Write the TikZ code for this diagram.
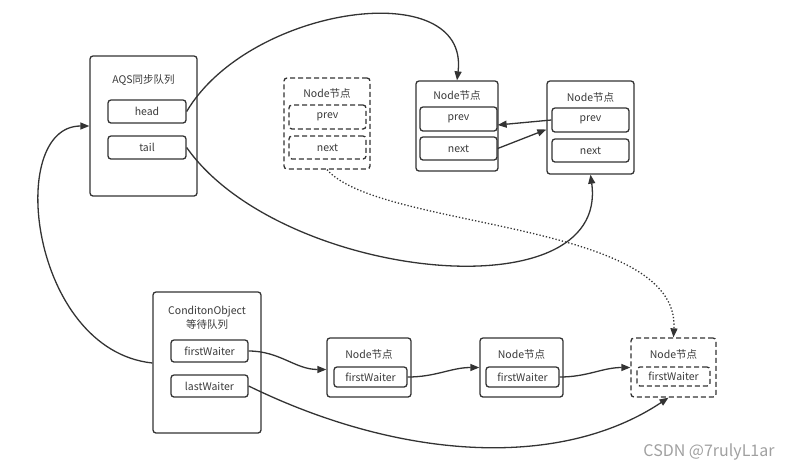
\documentclass[tikz,border=0pt]{standalone}
\usepackage{fontspec}
\setmainfont{Noto Sans CJK SC}
\usetikzlibrary{arrows.meta}
\definecolor{ln}{HTML}{333333}
\definecolor{tx}{HTML}{3A3A3A}
\definecolor{wm}{HTML}{A0A0A0}
\begin{document}
\begin{tikzpicture}[x=1pt,y=-1pt,
  box/.style={draw=ln,line width=1.3pt,rounded corners=3pt,inner sep=0pt,fill=white},
  dbox/.style={box,dash pattern=on 5pt off 3pt},
  lbl/.style={text=tx,font=\fontsize{10.5}{12}\selectfont,inner sep=0pt},
  ttl/.style={text=tx,font=\fontsize{10.5}{13.5}\selectfont,inner sep=0pt,align=center},
  conn/.style={draw=ln,line width=1.3pt,-{Triangle[length=9pt,width=7pt]}},
  dconn/.style={conn,dash pattern=on 1.3pt off 2pt}]
\useasboundingbox (0,0) rectangle (801,475);
% AQS queue
\node[box,minimum width=107pt,minimum height=140pt] (aqs) at (143.5,126) {};
\node[ttl] (aqsl) at (143.5,80) {AQS同步队列};
\node[box,minimum width=78pt,minimum height=23pt,lbl] (head) at (147,111.5) {head};
\node[box,minimum width=78pt,minimum height=23pt,lbl] (tail) at (147,147.5) {tail};
% dashed node
\node[dbox,minimum width=86pt,minimum height=91pt] (dn) at (327,123.5) {};
\node[ttl] (dnl) at (327,93) {Node节点};
\node[dbox,minimum width=77pt,minimum height=24pt,lbl] (dnprev) at (327.5,117) {prev};
\node[dbox,minimum width=77pt,minimum height=23pt,lbl] (dnnext) at (327.5,147.5) {next};
% node 2
\node[box,minimum width=82pt,minimum height=90pt] (n2) at (457,126) {};
\node[ttl] (n2l) at (457,95) {Node节点};
\node[box,minimum width=77pt,minimum height=24pt,lbl] (n2prev) at (458.5,119) {prev};
\node[box,minimum width=77pt,minimum height=23pt,lbl] (n2next) at (458.5,148.5) {next};
% node 3
\node[box,minimum width=87pt,minimum height=93pt] (n3) at (590.5,127.5) {};
\node[ttl] (n3l) at (590.5,97) {Node节点};
\node[box,minimum width=77pt,minimum height=24pt,lbl] (n3prev) at (590.5,120) {prev};
\node[box,minimum width=77pt,minimum height=23pt,lbl] (n3next) at (590.5,150.5) {next};
% condition object
\node[box,minimum width=108pt,minimum height=141pt] (co) at (207,362.5) {};
\node[ttl] (col) at (207,318) {ConditonObject\\等待队列};
\node[box,minimum width=77pt,minimum height=22pt,lbl] (fw) at (209.5,351) {firstWaiter};
\node[box,minimum width=77pt,minimum height=22pt,lbl] (lw) at (209.5,386) {lastWaiter};
% waiter nodes
\node[box,minimum width=84pt,minimum height=59pt] (n4) at (369,367.5) {};
\node[ttl] (n4l) at (369,354) {Node节点};
\node[box,minimum width=73pt,minimum height=20pt,lbl] (n4in) at (370.5,377) {firstWaiter};
\node[box,minimum width=83pt,minimum height=59pt] (n5) at (521.5,367.5) {};
\node[ttl] (n5l) at (521.5,354) {Node节点};
\node[box,minimum width=73pt,minimum height=20pt,lbl] (n5in) at (522.5,377) {firstWaiter};
\node[dbox,minimum width=85pt,minimum height=59pt] (n6) at (673.5,367.5) {};
\node[ttl] (n6l) at (673.5,354) {Node节点};
\node[dbox,minimum width=73pt,minimum height=19pt,lbl] (n6in) at (673.5,376.5) {firstWaiter};
% watermark
\node[text=wm,font=\fontsize{16}{18}\selectfont,inner sep=0pt] (wmk) at (709,452) {CSDN @7rulyL1ar};
% connectors
\draw[conn] (head.east) .. controls (250,5) and (470,-25) .. (n2.north);
\draw[conn] (tail.east) .. controls (280,280) and (610,315) .. (n3.south);
\draw[conn] (n3prev.west) -- ([yshift=-6pt]n2prev.east);
\draw[conn] (n2next.east) -- ([yshift=-2pt]n3.west);
\draw[dconn] (dn.south) .. controls (380,230) and (680,220) .. (n6.north);
\draw[conn] ([yshift=-0.5pt]co.west) .. controls (30,350) and (5,126) .. (aqs.west);
\draw[conn] (fw.east) to[out=0,in=180] ([yshift=-2pt]n4.west);
\draw[conn] (n4in.east) to[out=0,in=180] (n5.west);
\draw[conn] (n5in.east) to[out=0,in=180] (n6.west);
\draw[conn] (lw.east) .. controls (400,460) and (560,470) .. ([xshift=-5pt]n6.south);
\end{tikzpicture}
\end{document}
